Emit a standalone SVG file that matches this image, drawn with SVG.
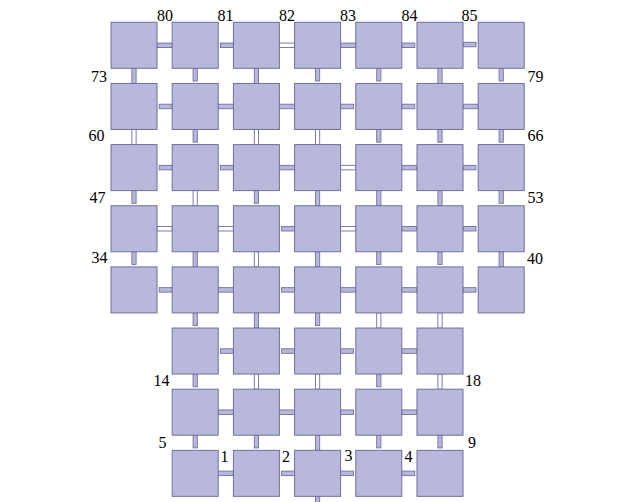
<svg xmlns="http://www.w3.org/2000/svg" width="639" height="502" viewBox="0 0 639 502">
<style>
.n{fill:#b8b8dc;stroke:#6f6f9f;stroke-width:1}
.c{fill:#b8b8dc;stroke:#6f6f9f;stroke-width:0.9}
.h{fill:#ffffff;stroke:#6f6f9f;stroke-width:0.9}
.t{font-family:'Liberation Serif','DejaVu Serif',serif;font-size:16px;fill:#000}
</style>
<rect width="639" height="502" fill="#ffffff"/>
<g id="connectors">
<rect class="c" x="157" y="43.05" width="15.2" height="4.5"/>
<rect class="c" x="220.4" y="43.05" width="13" height="4.5"/>
<rect class="h" x="279.4" y="43.05" width="15.2" height="4.5"/>
<rect class="c" x="340.6" y="43.05" width="15.2" height="4.5"/>
<rect class="c" x="401.8" y="43.05" width="13" height="4.5"/>
<rect class="c" x="463" y="42.3" width="13" height="4.5"/>
<rect class="c" x="131.9" y="68.3" width="4.2" height="15.15"/>
<rect class="c" x="193.1" y="68.3" width="4.2" height="12.7"/>
<rect class="c" x="254.3" y="68.3" width="4.2" height="15.15"/>
<rect class="c" x="315.5" y="68.3" width="4.2" height="12.7"/>
<rect class="c" x="376.7" y="68.3" width="4.2" height="12.7"/>
<rect class="c" x="437.9" y="68.3" width="4.2" height="15.15"/>
<rect class="c" x="499.1" y="68.3" width="4.2" height="12.7"/>
<rect class="c" x="159.2" y="104.2" width="13" height="4.5"/>
<rect class="c" x="218.2" y="104.2" width="15.2" height="4.5"/>
<rect class="c" x="279.4" y="104.2" width="15.2" height="4.5"/>
<rect class="c" x="340.6" y="104.2" width="13" height="4.5"/>
<rect class="c" x="401.8" y="104.2" width="13" height="4.5"/>
<rect class="c" x="463" y="104.2" width="15.2" height="4.5"/>
<rect class="h" x="131.9" y="129.45" width="4.2" height="15.15"/>
<rect class="c" x="193.1" y="129.45" width="4.2" height="12.7"/>
<rect class="h" x="254.3" y="129.45" width="4.2" height="15.15"/>
<rect class="h" x="315.5" y="129.45" width="4.2" height="15.15"/>
<rect class="c" x="376.7" y="129.45" width="4.2" height="12.7"/>
<rect class="c" x="437.9" y="129.45" width="4.2" height="12.7"/>
<rect class="c" x="499.1" y="129.45" width="4.2" height="12.7"/>
<rect class="c" x="159.2" y="165.35" width="13" height="4.5"/>
<rect class="c" x="220.4" y="165.35" width="13" height="4.5"/>
<rect class="c" x="279.4" y="165.35" width="15.2" height="4.5"/>
<rect class="h" x="340.6" y="165.35" width="15.2" height="4.5"/>
<rect class="c" x="401.8" y="165.35" width="15.2" height="4.5"/>
<rect class="c" x="463" y="165.35" width="13" height="4.5"/>
<rect class="c" x="131.9" y="190.6" width="4.2" height="12.7"/>
<rect class="h" x="193.1" y="190.6" width="4.2" height="15.15"/>
<rect class="c" x="254.3" y="190.6" width="4.2" height="12.7"/>
<rect class="c" x="315.5" y="190.6" width="4.2" height="15.15"/>
<rect class="c" x="376.7" y="190.6" width="4.2" height="15.15"/>
<rect class="c" x="437.9" y="190.6" width="4.2" height="15.15"/>
<rect class="c" x="499.1" y="190.6" width="4.2" height="12.7"/>
<rect class="h" x="157" y="226.5" width="15.2" height="4.5"/>
<rect class="h" x="218.2" y="226.5" width="15.2" height="4.5"/>
<rect class="c" x="281.6" y="226.5" width="13" height="4.5"/>
<rect class="h" x="340.6" y="226.5" width="15.2" height="4.5"/>
<rect class="c" x="401.8" y="226.5" width="15.2" height="4.5"/>
<rect class="c" x="463" y="226.5" width="13" height="4.5"/>
<rect class="c" x="131.9" y="251.75" width="4.2" height="12.7"/>
<rect class="c" x="193.1" y="251.75" width="4.2" height="15.15"/>
<rect class="h" x="254.3" y="251.75" width="4.2" height="15.15"/>
<rect class="c" x="315.5" y="251.75" width="4.2" height="15.15"/>
<rect class="c" x="376.7" y="251.75" width="4.2" height="12.7"/>
<rect class="c" x="437.9" y="251.75" width="4.2" height="12.7"/>
<rect class="c" x="499.1" y="251.75" width="4.2" height="15.15"/>
<rect class="c" x="159.2" y="287.65" width="13" height="4.5"/>
<rect class="c" x="218.2" y="287.65" width="15.2" height="4.5"/>
<rect class="c" x="281.6" y="287.65" width="13" height="4.5"/>
<rect class="c" x="340.6" y="287.65" width="15.2" height="4.5"/>
<rect class="c" x="401.8" y="287.65" width="15.2" height="4.5"/>
<rect class="c" x="463" y="287.65" width="13" height="4.5"/>
<rect class="c" x="193.1" y="312.9" width="4.2" height="12.7"/>
<rect class="c" x="254.3" y="312.9" width="4.2" height="15.15"/>
<rect class="c" x="315.5" y="312.9" width="4.2" height="12.7"/>
<rect class="h" x="376.7" y="312.9" width="4.2" height="15.15"/>
<rect class="h" x="437.9" y="312.9" width="4.2" height="15.15"/>
<rect class="c" x="220.4" y="348.8" width="13" height="4.5"/>
<rect class="c" x="281.6" y="348.8" width="13" height="4.5"/>
<rect class="c" x="340.6" y="348.8" width="13" height="4.5"/>
<rect class="c" x="401.8" y="348.8" width="15.2" height="4.5"/>
<rect class="c" x="193.1" y="374.05" width="4.2" height="12.7"/>
<rect class="h" x="254.3" y="374.05" width="4.2" height="15.15"/>
<rect class="h" x="315.5" y="374.05" width="4.2" height="15.15"/>
<rect class="c" x="376.7" y="374.05" width="4.2" height="12.7"/>
<rect class="h" x="437.9" y="374.05" width="4.2" height="15.15"/>
<rect class="c" x="218.2" y="409.95" width="15.2" height="4.5"/>
<rect class="c" x="279.4" y="409.95" width="15.2" height="4.5"/>
<rect class="c" x="340.6" y="409.95" width="13" height="4.5"/>
<rect class="c" x="401.8" y="409.95" width="15.2" height="4.5"/>
<rect class="c" x="193.1" y="435.2" width="4.2" height="12.7"/>
<rect class="c" x="254.3" y="435.2" width="4.2" height="12.7"/>
<rect class="c" x="315.5" y="435.2" width="4.2" height="15.15"/>
<rect class="c" x="376.7" y="435.2" width="4.2" height="12.7"/>
<rect class="c" x="437.9" y="435.2" width="4.2" height="12.7"/>
<rect class="c" x="218.2" y="471.1" width="15.2" height="4.5"/>
<rect class="c" x="281.6" y="471.1" width="13" height="4.5"/>
<rect class="c" x="340.6" y="471.1" width="13" height="4.5"/>
<rect class="c" x="401.8" y="471.1" width="13" height="4.5"/>
<rect class="c" x="315.5" y="496.35" width="4.2" height="8"/>
</g>
<g id="n73"><rect class="n" x="111" y="22.3" width="46" height="46"/></g>
<g id="n80"><rect class="n" x="172.2" y="22.3" width="46" height="46"/></g>
<g id="n81"><rect class="n" x="233.4" y="22.3" width="46" height="46"/></g>
<g id="n82"><rect class="n" x="294.6" y="22.3" width="46" height="46"/></g>
<g id="n83"><rect class="n" x="355.8" y="22.3" width="46" height="46"/></g>
<g id="n84"><rect class="n" x="417" y="22.3" width="46" height="46"/></g>
<g id="n85"><rect class="n" x="478.2" y="22.3" width="46" height="46"/></g>
<g id="n60"><rect class="n" x="111" y="83.45" width="46" height="46"/></g>
<g id="n61"><rect class="n" x="172.2" y="83.45" width="46" height="46"/></g>
<g id="n62"><rect class="n" x="233.4" y="83.45" width="46" height="46"/></g>
<g id="n63"><rect class="n" x="294.6" y="83.45" width="46" height="46"/></g>
<g id="n64"><rect class="n" x="355.8" y="83.45" width="46" height="46"/></g>
<g id="n65"><rect class="n" x="417" y="83.45" width="46" height="46"/></g>
<g id="n79"><rect class="n" x="478.2" y="83.45" width="46" height="46"/></g>
<g id="n47"><rect class="n" x="111" y="144.6" width="46" height="46"/></g>
<g id="n48"><rect class="n" x="172.2" y="144.6" width="46" height="46"/></g>
<g id="n49"><rect class="n" x="233.4" y="144.6" width="46" height="46"/></g>
<g id="n50"><rect class="n" x="294.6" y="144.6" width="46" height="46"/></g>
<g id="n51"><rect class="n" x="355.8" y="144.6" width="46" height="46"/></g>
<g id="n52"><rect class="n" x="417" y="144.6" width="46" height="46"/></g>
<g id="n66"><rect class="n" x="478.2" y="144.6" width="46" height="46"/></g>
<g id="n34"><rect class="n" x="111" y="205.75" width="46" height="46"/></g>
<g id="n35"><rect class="n" x="172.2" y="205.75" width="46" height="46"/></g>
<g id="n36"><rect class="n" x="233.4" y="205.75" width="46" height="46"/></g>
<g id="n37"><rect class="n" x="294.6" y="205.75" width="46" height="46"/></g>
<g id="n38"><rect class="n" x="355.8" y="205.75" width="46" height="46"/></g>
<g id="n39"><rect class="n" x="417" y="205.75" width="46" height="46"/></g>
<g id="n53"><rect class="n" x="478.2" y="205.75" width="46" height="46"/></g>
<g id="n27"><rect class="n" x="111" y="266.9" width="46" height="46"/></g>
<g id="n28"><rect class="n" x="172.2" y="266.9" width="46" height="46"/></g>
<g id="n29"><rect class="n" x="233.4" y="266.9" width="46" height="46"/></g>
<g id="n30"><rect class="n" x="294.6" y="266.9" width="46" height="46"/></g>
<g id="n31"><rect class="n" x="355.8" y="266.9" width="46" height="46"/></g>
<g id="n32"><rect class="n" x="417" y="266.9" width="46" height="46"/></g>
<g id="n40"><rect class="n" x="478.2" y="266.9" width="46" height="46"/></g>
<g id="n14"><rect class="n" x="172.2" y="328.05" width="46" height="46"/></g>
<g id="n15"><rect class="n" x="233.4" y="328.05" width="46" height="46"/></g>
<g id="n16"><rect class="n" x="294.6" y="328.05" width="46" height="46"/></g>
<g id="n17"><rect class="n" x="355.8" y="328.05" width="46" height="46"/></g>
<g id="n18"><rect class="n" x="417" y="328.05" width="46" height="46"/></g>
<g id="n5"><rect class="n" x="172.2" y="389.2" width="46" height="46"/></g>
<g id="n6"><rect class="n" x="233.4" y="389.2" width="46" height="46"/></g>
<g id="n7"><rect class="n" x="294.6" y="389.2" width="46" height="46"/></g>
<g id="n8"><rect class="n" x="355.8" y="389.2" width="46" height="46"/></g>
<g id="n9"><rect class="n" x="417" y="389.2" width="46" height="46"/></g>
<g id="n0"><rect class="n" x="172.2" y="450.35" width="46" height="46"/></g>
<g id="n1"><rect class="n" x="233.4" y="450.35" width="46" height="46"/></g>
<g id="n2"><rect class="n" x="294.6" y="450.35" width="46" height="46"/></g>
<g id="n3"><rect class="n" x="355.8" y="450.35" width="46" height="46"/></g>
<g id="n4"><rect class="n" x="417" y="450.35" width="46" height="46"/></g>
<g id="labels" class="t" font-family="Liberation Serif, serif" font-size="16">
<text x="157" y="20.7">80</text>
<text x="217.5" y="20.7">81</text>
<text x="279" y="20.7">82</text>
<text x="340" y="20.7">83</text>
<text x="401.5" y="20.7">84</text>
<text x="461.5" y="20.7">85</text>
<text x="91" y="81.7">73</text>
<text x="527.5" y="81.7">79</text>
<text x="88.5" y="140.5">60</text>
<text x="527.5" y="140.5">66</text>
<text x="89.5" y="202.8">47</text>
<text x="527.5" y="203">53</text>
<text x="91.5" y="262.8">34</text>
<text x="527" y="264">40</text>
<text x="153.5" y="386">14</text>
<text x="465" y="386">18</text>
<text x="158.5" y="448">5</text>
<text x="468" y="447.5">9</text>
<text x="220.5" y="461.5">1</text>
<text x="282" y="461.5">2</text>
<text x="344.5" y="460.5">3</text>
<text x="404.5" y="461.5">4</text>
</g>
</svg>
